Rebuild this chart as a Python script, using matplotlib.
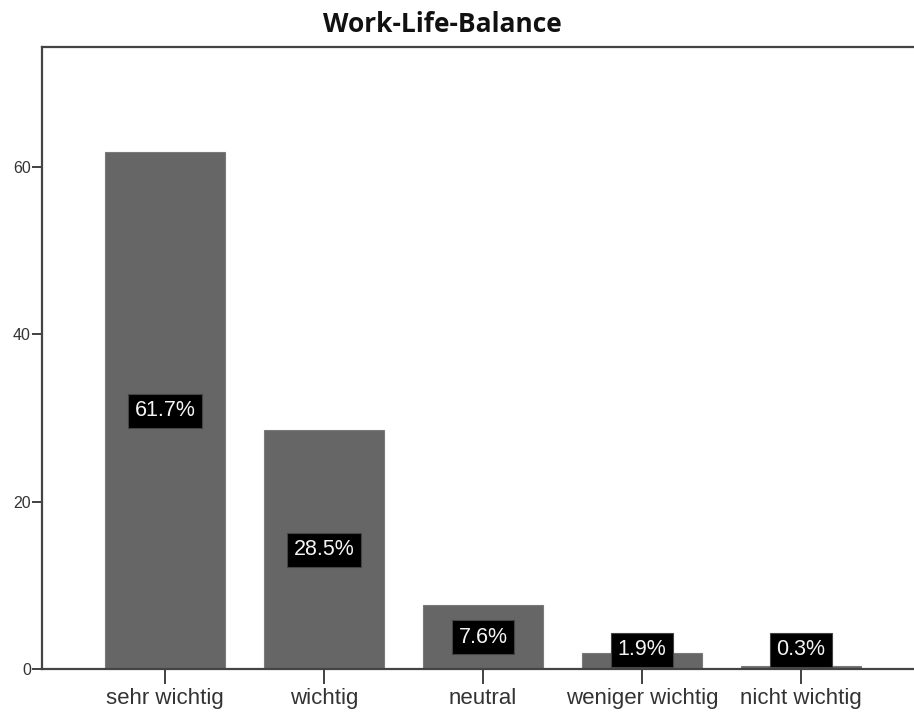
import matplotlib
matplotlib.use("Agg")
import matplotlib.pyplot as plt

categories = ["sehr wichtig", "wichtig", "neutral", "weniger wichtig", "nicht wichtig"]
percent = [61.7, 28.5, 7.6, 1.9, 0.3]
labels = ["61.7%", "28.5%", "7.6%", "1.9%", "0.3%"]
yticks = [0, 20, 40, 60]
title = "Work-Life-Balance"

fig = plt.figure(figsize=(9.14, 7.13), dpi=100)
ax = fig.add_axes([42/914, 44/713, 882/914, 622/713])

x = list(range(len(categories)))
ax.bar(x, percent, width=0.755, color="#666666", edgecolor="#7a7a7a", linewidth=0.8, zorder=2)

ax.set_xlim(-0.774, 4.774)
ax.set_ylim(0, 74.3)

for xi, v, lab in zip(x, percent, labels):
    ax.text(xi, max(v / 2, 2.3), lab, ha="center", va="center", color="#f4f4f4",
            fontsize=15.5, family=["Liberation Sans", "DejaVu Sans"], zorder=3,
            bbox=dict(boxstyle="square,pad=0.3", fc="black", ec="#444444", lw=0.8))

ax.set_xticks(x)
ax.set_xticklabels(categories, fontsize=16, color="#333333", family=["Liberation Sans", "DejaVu Sans"])
ax.set_yticks(yticks)
ax.set_yticklabels([str(t) for t in yticks], fontsize=11.5, color="#333333", family=["Liberation Sans", "DejaVu Sans"])
ax.tick_params(axis="x", length=11, width=1.3, color="#333333", pad=3)
ax.tick_params(axis="y", length=7, width=1.3, color="#333333", pad=1)

for s in ["left", "bottom", "top"]:
    ax.spines[s].set_color("#444444")
    ax.spines[s].set_linewidth(1.6)
ax.spines["right"].set_visible(False)

fig.text(442/914, 1 - 24/713, title, ha="center", va="center", fontsize=19, fontweight="bold",
         family=["Liberation Sans Narrow", "Open Sans", "DejaVu Sans"], fontstretch="condensed", color="#111111")

fig.savefig("out.png", dpi=100)
